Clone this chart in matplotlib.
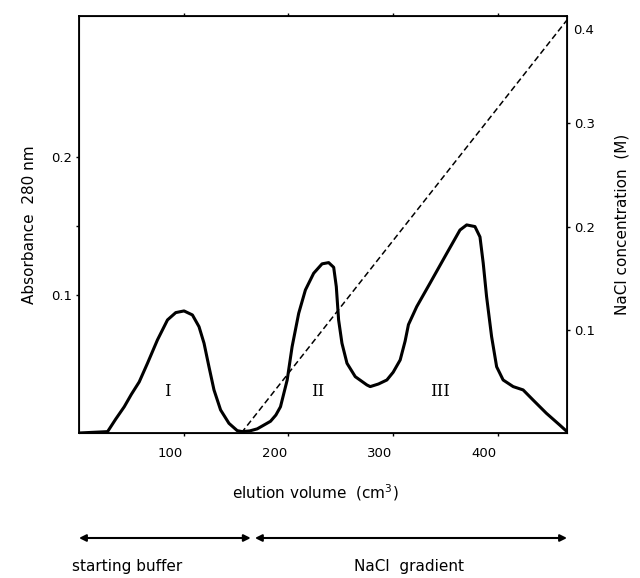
import matplotlib.pyplot as plt
from matplotlib.transforms import ScaledTranslation, blended_transform_factory

# elution profile
volume = [0, 27.3, 35, 43.2, 50, 57.5, 65.4, 74.9, 84.5, 92.4, 100.3, 108.3, 114.6,
          119.4, 124.1, 128.9, 135.2, 143.2, 151.1, 155.9, 163, 170.2, 176, 182.9,
          188, 192.4, 198.8, 203.5, 209.8, 216.2, 224.1, 232.1, 238.4, 243.2, 245.7,
          247.9, 251.1, 255.9, 263.8, 274.9, 278.1, 286, 294, 300, 306.7, 311.4,
          314.6, 322.5, 335.2, 351.1, 363.8, 370.2, 378.1, 382.9, 386, 389.2, 394,
          398.8, 405, 414.6, 424.1, 433.6, 446.3, 459, 466]
absorbance = [0, 0.001, 0.010, 0.019, 0.028, 0.037, 0.0505, 0.0674, 0.0819, 0.0872, 0.0884,
              0.0855, 0.077, 0.065, 0.048, 0.0312, 0.0167, 0.007, 0.0017, 0.001, 0.0015,
              0.003, 0.0055, 0.0085, 0.013, 0.019, 0.0384, 0.0625, 0.0867, 0.1036, 0.1157,
              0.1225, 0.1234, 0.120, 0.106, 0.0819, 0.065, 0.0505, 0.0408, 0.0348, 0.0336,
              0.0355, 0.0384, 0.044, 0.0529, 0.0665, 0.0785, 0.0915, 0.1085, 0.130, 0.147,
              0.1507, 0.1495, 0.142, 0.123, 0.0988, 0.0698, 0.048, 0.0384, 0.0336, 0.0312,
              0.0239, 0.0143, 0.0058, 0.001]

# NaCl gradient (dashed line)
grad_volume = [155, 466]
grad_conc = [0, 0.4]

peak_names = ['I', 'II', 'III']
peak_pos = [84, 228, 345]

x_ticks = [100, 200, 300, 400]
abs_ticks = [0.1, 0.15, 0.2]
abs_labels = ['0.1', '', '0.2']
nacl_ticks = [0.1, 0.2, 0.3]

fig = plt.figure(figsize=(6.4, 5.78), dpi=100)
ax = fig.add_axes([79/640, 1-433/578, (567-79)/640, (433-16)/578])

ax.plot(volume, absorbance, color='black', lw=2.2, solid_joinstyle='round', solid_capstyle='round')
ax.set_xlim(0, 466)
ax.set_ylim(0, 0.302)

for name, pos in zip(peak_names, peak_pos):
    ax.text(pos, 0.03, name, family='DejaVu Serif', fontsize=12, ha='center', va='center')

ax.set_xticks(x_ticks)
ax.set_xticklabels([str(v) for v in x_ticks])
ax.set_yticks(abs_ticks)
ax.set_yticklabels(abs_labels)
ax.tick_params(axis='x', top=True, direction='out', length=2, width=1, labelsize=9.5, pad=8)
ax.tick_params(axis='y', direction='out', length=2, width=1, labelsize=9.5, pad=3)
# labels sit a little left of their ticks in the original
shift = ScaledTranslation(-14/100, 0, fig.dpi_scale_trans)
for lab in ax.get_xticklabels():
    lab.set_transform(lab.get_transform() + shift)
for s in ax.spines.values():
    s.set_linewidth(1.3)

ax2 = ax.twinx()
ax2.plot(grad_volume, grad_conc, color='black', lw=1.1, ls=(0, (4, 2.2)))
ax2.set_ylim(0, 0.4 * 417 / 413)
ax2.set_yticks(nacl_ticks)
ax2.set_yticklabels([str(v) for v in nacl_ticks])
ax2.tick_params(axis='y', direction='out', length=2, width=1, labelsize=9.5, pad=3)
# top label 0.4 hangs just below the corner
trans = blended_transform_factory(ax2.transAxes, ax2.transData) + ScaledTranslation(6/100, -4/100, fig.dpi_scale_trans)
ax2.text(1, 0.4, '0.4', transform=trans, ha='left', va='top', fontsize=9.5)

ax.set_ylabel('Absorbance  280 nm', fontsize=11, labelpad=10)
ax2.set_ylabel('NaCl concentration  (M)', fontsize=11, labelpad=14)

fig.text(315/640, 1-493/578, 'elution volume  (cm$^3$)', ha='center', va='center', fontsize=11)

# buffer arrows under the plot
ax.annotate('', xy=(0, 1-538/578), xytext=(164, 1-538/578),
            xycoords=('data', 'figure fraction'), textcoords=('data', 'figure fraction'),
            arrowprops=dict(arrowstyle='<|-|>', color='black', lw=1.5,
                            mutation_scale=10, shrinkA=0, shrinkB=0),
            annotation_clip=False)
ax.annotate('', xy=(168, 1-538/578), xytext=(466, 1-538/578),
            xycoords=('data', 'figure fraction'), textcoords=('data', 'figure fraction'),
            arrowprops=dict(arrowstyle='<|-|>', color='black', lw=1.5,
                            mutation_scale=10, shrinkA=0, shrinkB=0),
            annotation_clip=False)
fig.text(127/640, 1-566/578, 'starting buffer', ha='center', va='center', fontsize=11)
fig.text(409/640, 1-566/578, 'NaCl  gradient', ha='center', va='center', fontsize=11)

fig.savefig('out.png', dpi=100)
